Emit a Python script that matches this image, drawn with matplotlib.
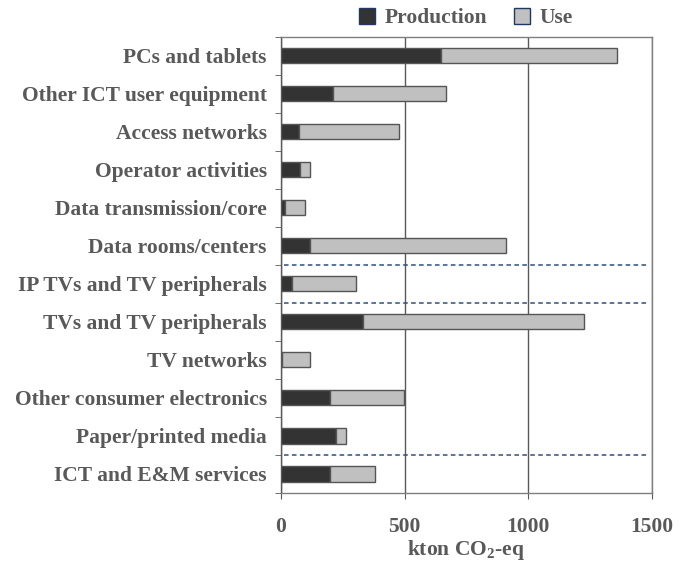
import matplotlib

matplotlib.use("Agg")

import matplotlib.pyplot as plt
from matplotlib.patches import Patch

CATEGORIES = [
    "PCs and tablets",
    "Other ICT user equipment",
    "Access networks",
    "Operator activities",
    "Data transmission/core",
    "Data rooms/centers",
    "IP TVs and TV peripherals",
    "TVs and TV peripherals",
    "TV networks",
    "Other consumer electronics",
    "Paper/printed media",
    "ICT and E&M services",
]
PRODUCTION = [649, 212, 73, 77, 16, 119, 46, 332, 6, 199, 224, 198]
USE = [710, 457, 405, 42, 81, 791, 256, 892, 113, 298, 41, 182]
SEPARATORS = [5.5, 6.5, 10.5]
XTICKS = [0, 500, 1000, 1500]

TEXT = "#595959"
plt.rcParams["font.family"] = ["Liberation Serif", "DejaVu Serif"]
plt.rcParams["font.weight"] = "bold"
plt.rcParams["font.size"] = 15.5
plt.rcParams["mathtext.fontset"] = "custom"
plt.rcParams["mathtext.rm"] = "Liberation Serif:bold"
plt.rcParams["mathtext.default"] = "rm"

fig = plt.figure(figsize=(6.88, 5.64), dpi=100)
ax = fig.add_axes([0.408, 0.126, 0.540, 0.809])

ypos = list(range(len(CATEGORIES)))
ax.barh(ypos, PRODUCTION, height=0.4, color="#333333", edgecolor="#555555",
        linewidth=1.0, zorder=3)
ax.barh(ypos, USE, left=PRODUCTION, height=0.4, color="#c0c0c0",
        edgecolor="#555555", linewidth=1.0, zorder=3)

for y in SEPARATORS:
    ax.axhline(y, xmin=0.008, xmax=0.99, color="#2f4d80", linestyle=(0, (3, 2.2)),
               linewidth=1.1, zorder=4)

ax.set_xlim(0, 1500)
ax.set_ylim(len(CATEGORIES) - 0.5, -0.5)
ax.set_xticks(XTICKS)
ax.set_xticklabels([str(t) for t in XTICKS], color=TEXT, fontweight="bold")
ax.set_yticks(ypos)
ax.set_yticklabels(CATEGORIES, color=TEXT, fontweight="bold")
ax.set_yticks([i + 0.5 for i in range(-1, len(CATEGORIES))], minor=True)
ax.tick_params(axis="y", which="major", length=0, pad=10)
ax.tick_params(axis="y", which="minor", length=4, color="#595959")
ax.tick_params(axis="x", length=4, color="#595959", pad=13)

ax.grid(axis="x", color="#595959", linewidth=1.0, zorder=0)
for side in ["top", "right", "bottom", "left"]:
    ax.spines[side].set_color("#7f7f7f")
    ax.spines[side].set_linewidth(1.0)
ax.spines["left"].set_color("#595959")

ax.set_xlabel("kton CO$_2$-eq", color=TEXT, fontweight="bold", labelpad=1)

handles = [
    Patch(facecolor="#333333", edgecolor="#203864", label="Production"),
    Patch(facecolor="#c0c0c0", edgecolor="#203864", label="Use"),
]
leg = fig.legend(handles=handles, loc="center", bbox_to_anchor=(0.677, 0.968),
                 ncol=2, frameon=False, handlelength=0.75, handleheight=0.75,
                 handletextpad=0.45, columnspacing=1.25, borderaxespad=0)
for t in leg.get_texts():
    t.set_color(TEXT)

fig.savefig("out.png", dpi=100)
